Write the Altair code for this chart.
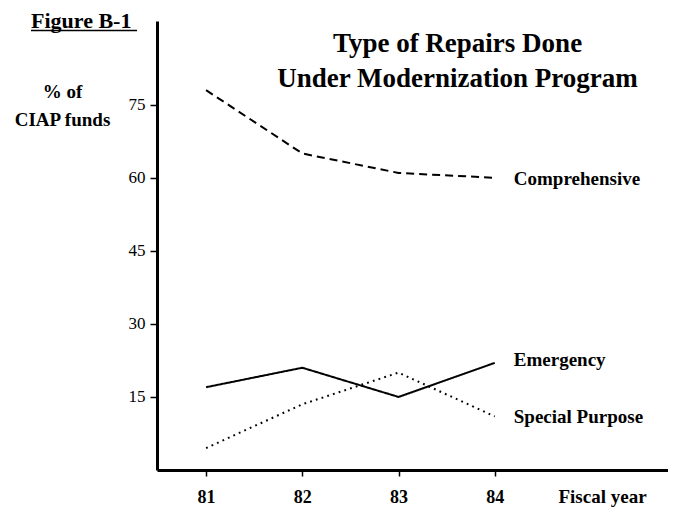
import altair as alt
import pandas as pd

years = [81, 82, 83, 84]
comprehensive = [78, 65, 61, 60]
emergency = [17, 21, 15, 22]
special = [4.5, 13.5, 20, 11]
series_names = ["Comprehensive", "Emergency", "Special Purpose"]
y_ticks = [15, 30, 45, 60, 75]

rows = []
for name, vals in zip(series_names, [comprehensive, emergency, special]):
    for yr, v in zip(years, vals):
        rows.append({"year": yr, "pct": v, "series": name})
df = pd.DataFrame(rows)
last = df[df.year == years[-1]]

FONT = "Liberation Serif"
xscale = alt.Scale(domain=[80.49, 85.80], nice=False, zero=False)
yscale = alt.Scale(domain=[0, 92.2], nice=False)

lines = alt.Chart(df).mark_line(color="black", strokeWidth=2).encode(
    x=alt.X("year:Q", scale=xscale,
            axis=alt.Axis(values=years, format="d", title="Fiscal year",
                          tickSize=6, labelPadding=12, labelFontSize=18, labelFontWeight="bold",
                          titleX=445, titleY=32, titleBaseline="alphabetic",
                          titleAlign="center", titleFontSize=19, titleFontWeight="bold")),
    y=alt.Y("pct:Q", scale=yscale,
            axis=alt.Axis(values=y_ticks, title=["% of", "CIAP funds"],
                          tickSize=7, labelPadding=5, labelFontSize=17,
                          titleAngle=0, titleAlign="center", titleBaseline="alphabetic",
                          titleX=-95, titleY=76, titleFontSize=19, titleFontWeight="bold",
                          titleLineHeight=28)),
    strokeDash=alt.StrokeDash("series:N",
                              scale=alt.Scale(domain=series_names,
                                              range=[[8, 5], [1, 0], [1.8, 4.2]]),
                              legend=None),
    detail="series:N",
)

label_dy = {"Comprehensive": 7, "Emergency": 3, "Special Purpose": 7}
labels = []
for name in series_names:
    labels.append(
        alt.Chart(last).transform_filter(alt.datum.series == name).mark_text(
            align="left", baseline="alphabetic", dx=19, dy=label_dy[name],
            font=FONT, fontSize=19, fontWeight="bold", color="black"
        ).encode(x=alt.X("year:Q", scale=xscale), y=alt.Y("pct:Q", scale=yscale), text="series:N")
    )

fig = alt.Chart(pd.DataFrame({"t": ["Figure B-1"]})).mark_text(
    align="left", baseline="alphabetic", font=FONT, fontSize=22, fontWeight="bold", color="black"
).encode(x=alt.value(-126), y=alt.value(6.5), text="t:N")

underline = alt.Chart(pd.DataFrame({"t": [0]})).mark_rule(color="black", strokeWidth=1.5).encode(
    x=alt.value(-126), x2=alt.value(-20), y=alt.value(9.5)
)

chart = alt.layer(lines, *labels, fig, underline).properties(
    width=511, height=449,
    autosize=alt.AutoSizeParams(type="none"),
    padding={"left": 149, "top": 13, "right": 0, "bottom": 38},
    title=alt.TitleParams(
        text=["Type of Repairs Done", "Under Modernization Program"],
        font=FONT, fontSize=27, fontWeight="bold", color="black",
        anchor="middle", frame="group", dx=45, dy=83, lineHeight=35, offset=0,
    ),
).configure_view(stroke=None).configure_axis(
    grid=False, domainColor="black", domainWidth=3, tickColor="black", tickWidth=1.5,
    labelColor="black", titleColor="black", labelFont=FONT, titleFont=FONT,
)

chart.save("out.html", embed_options={"renderer": "svg", "actions": False})
